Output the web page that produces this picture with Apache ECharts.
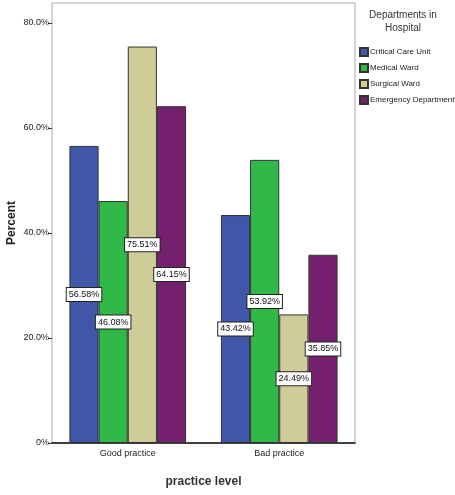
<!DOCTYPE html>
<html><head><meta charset="utf-8">
<script src="https://cdn.jsdelivr.net/npm/echarts@6/dist/echarts.min.js"></script>
<style>html,body{margin:0;padding:0;background:#fff}#c{width:455px;height:495px}</style>
</head><body><div id="c"></div>
<script>
const categories = ["Good practice", "Bad practice"];
const seriesNames = ["Critical Care Unit", "Medical Ward", "Surgical Ward", "Emergency Department"];
const criticalCare = [56.58, 43.42];
const medicalWard = [46.08, 53.92];
const surgicalWard = [75.51, 24.49];
const emergency = [64.15, 35.85];
const yTicks = [0, 20, 40, 60, 80];
const colors = ["#4056a8", "#30b848", "#cfcc98", "#74206f"];
const values = [criticalCare, medicalWard, surgicalWard, emergency];

const chart = echarts.init(document.getElementById('c'));
const font = "Liberation Sans, Arial, sans-serif";
chart.setOption({
  animation: false,
  textStyle: {fontFamily: font},
  grid: {left: 52, right: 100, top: 3, bottom: 52, show: true, borderColor: '#aaa', borderWidth: 1,
    containLabel: false, outerBoundsMode: 'none'},
  legend: {
    orient: 'vertical', left: 354, top: 42, itemWidth: 8, itemHeight: 8, itemGap: 6,
    icon: 'rect', data: seriesNames,
    textStyle: {fontSize: 8, color: '#222', padding: [0,0,0,-3]}
  },
  graphic: [{
    type: 'text', x: 403, y: 9,
    style: {text: 'Departments in\nHospital', fontSize: 10, fill: '#333', textAlign: 'center', lineHeight: 13, fontFamily: font}
  }],
  xAxis: {
    type: 'category', data: categories,
    name: 'practice level', nameLocation: 'middle', nameGap: 33, nameMoveOverlap: false,
    nameTextStyle: {fontSize: 12, fontWeight: 'bold', color: '#333'},
    axisLine: {lineStyle: {color: '#111', width: 1.5}},
    axisTick: {alignWithLabel: true, length: 4, lineStyle: {color: '#333'}},
    axisLabel: {fontSize: 9, color: '#222', margin: 6}
  },
  yAxis: {
    type: 'value', min: 0, max: 83.8, interval: 20,
    name: 'Percent', nameLocation: 'middle', nameGap: 34, nameMoveOverlap: false,
    nameTextStyle: {fontSize: 12, fontWeight: 'bold', color: '#222'},
    axisLine: {show: false},
    axisTick: {show: true, inside: false, length: 4, lineStyle: {color: '#333'}},
    splitLine: {show: false},
    axisLabel: {fontSize: 9, color: '#222', margin: 3, showMaxLabel: false,
      formatter: v => yTicks.indexOf(v) < 0 ? '' : (v === 0 ? '0%' : v.toFixed(1) + '%')}
  },
  series: seriesNames.map((n, i) => ({
    name: n, type: 'bar', data: values[i], barGap: '0%', barCategoryGap: '23%',
    itemStyle: {color: colors[i], borderColor: '#333', borderWidth: 1},
    label: {show: true, position: 'inside', formatter: p => p.value.toFixed(2) + '%',
      fontSize: 9, color: '#111', backgroundColor: '#fff', borderColor: '#222', borderWidth: 1,
      padding: [2, 2]}
  }))
});
</script></body></html>
